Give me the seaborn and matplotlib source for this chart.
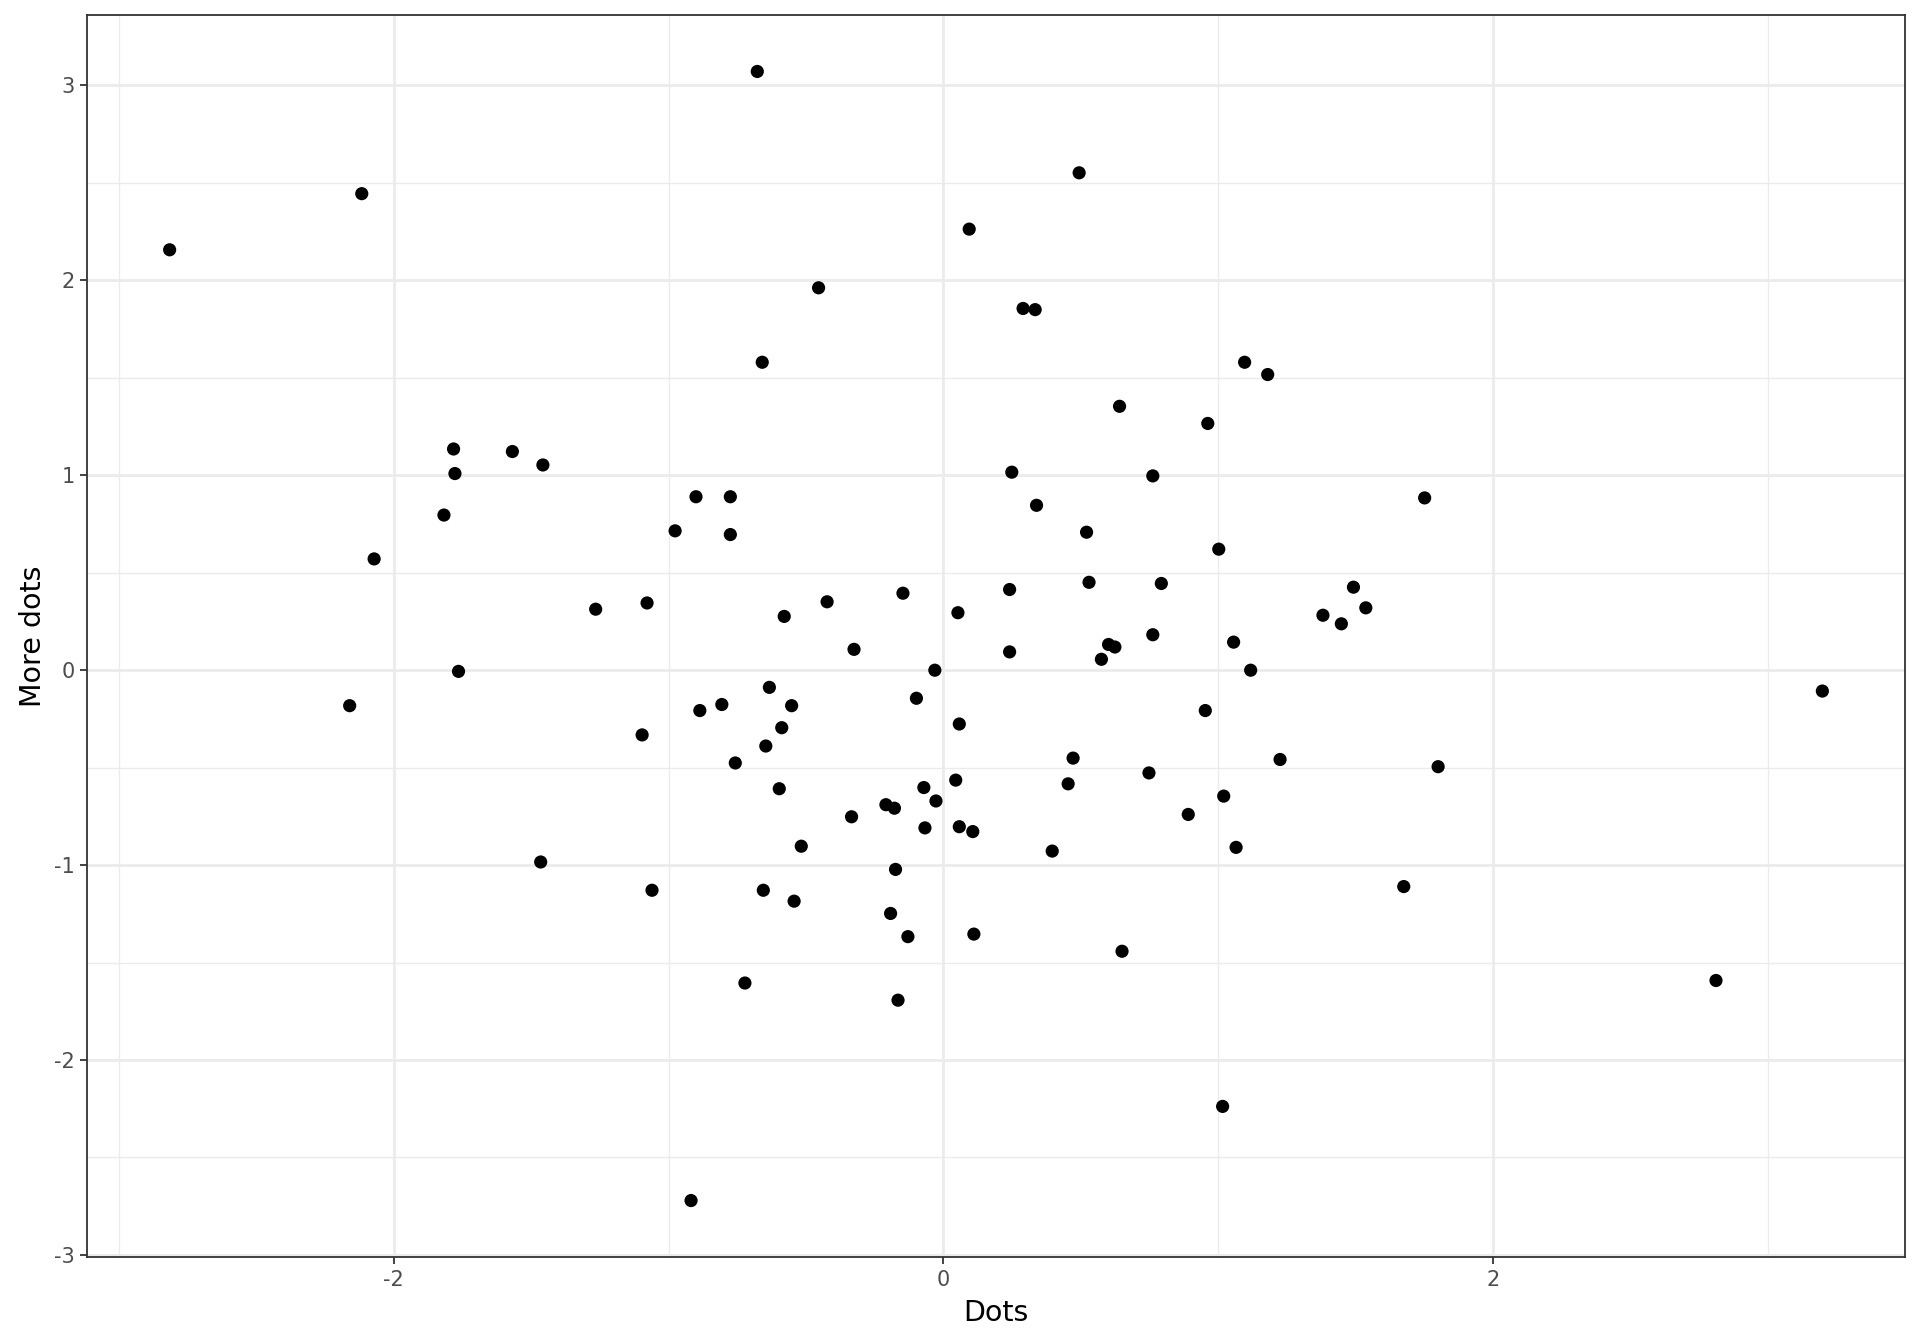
import numpy as np
import pandas as pd
import matplotlib
matplotlib.use("Agg")
import matplotlib.pyplot as plt
import seaborn as sns
from matplotlib.ticker import MultipleLocator

# values
dots = [
    -2.815, -2.116, -2.160, -2.071, -1.817, -1.782, -1.777, -1.764, -1.568, -1.457,
    -1.465, -1.265, -1.096, -1.078, -1.060, -0.976, -0.900, -0.886, -0.918, -0.806,
    -0.775, -0.775, -0.757, -0.722, -0.677, -0.659, -0.655, -0.646, -0.633, -0.597,
    -0.588, -0.579, -0.552, -0.543, -0.517, -0.454, -0.423, -0.334, -0.325, -0.209,
    -0.192, -0.178, -0.174, -0.165, -0.147, -0.129, -0.098, -0.071, -0.067, -0.031,
    -0.027, 0.045, 0.053, 0.058, 0.058, 0.094, 0.107, 0.111, 0.241, 0.241,
    0.249, 0.290, 0.334, 0.339, 0.396, 0.454, 0.472, 0.494, 0.521, 0.530,
    0.575, 0.601, 0.624, 0.641, 0.650, 0.748, 0.762, 0.762, 0.793, 0.891,
    0.953, 0.962, 1.002, 1.016, 1.020, 1.056, 1.065, 1.096, 1.118, 1.180,
    1.225, 1.381, 1.448, 1.492, 1.537, 1.675, 1.751, 1.800, 2.811, 3.198,
]
more_dots = [
    2.157, 2.445, -0.182, 0.571, 0.796, 1.135, 1.009, -0.006, 1.122, 1.053,
    -0.984, 0.313, -0.332, 0.345, -1.129, 0.715, 0.890, -0.207, -2.721, -0.176,
    0.890, 0.696, -0.476, -1.605, 3.072, 1.580, -1.129, -0.389, -0.088, -0.608,
    -0.295, 0.276, -0.182, -1.185, -0.903, 1.962, 0.351, -0.752, 0.107, -0.690,
    -1.248, -0.708, -1.022, -1.693, 0.395, -1.367, -0.144, -0.602, -0.809, 0.000,
    -0.671, -0.564, 0.295, -0.276, -0.803, 2.263, -0.828, -1.354, 0.414, 0.094,
    1.016, 1.856, 1.850, 0.846, -0.928, -0.583, -0.451, 2.552, 0.708, 0.451,
    0.056, 0.132, 0.119, 1.354, -1.442, -0.527, 0.997, 0.182, 0.445, -0.740,
    -0.207, 1.266, 0.621, -2.238, -0.646, 0.144, -0.909, 1.580, 0.000, 1.517,
    -0.458, 0.282, 0.238, 0.426, 0.320, -1.110, 0.884, -0.495, -1.592, -0.107,
]

df = pd.DataFrame({"Dots": dots, "More dots": more_dots})

sns.set_style("white")
plt.rcParams["font.family"] = ["DejaVu Sans"]
plt.rcParams["axes.unicode_minus"] = False

fig = plt.figure(figsize=(19.2, 13.44), dpi=100)
ax = fig.add_axes([87 / 1920, 1 - 1257 / 1344, (1905 - 87) / 1920, (1257 - 15) / 1344])

sns.scatterplot(data=df, x="Dots", y="More dots", ax=ax, color="black",
                s=90, edgecolor="none", zorder=3)

# ggplot-style 5% expansion
xr = max(dots) - min(dots)
yr = max(more_dots) - min(more_dots)
ax.set_xlim(min(dots) - 0.05 * xr, max(dots) + 0.05 * xr)
ax.set_ylim(min(more_dots) - 0.05 * yr, max(more_dots) + 0.05 * yr)

ax.xaxis.set_major_locator(MultipleLocator(2))
ax.xaxis.set_minor_locator(MultipleLocator(1))
ax.yaxis.set_major_locator(MultipleLocator(1))
ax.yaxis.set_minor_locator(MultipleLocator(0.5))

ax.grid(True, which="major", color="#EBEBEB", linewidth=2.0, zorder=0)
ax.grid(True, which="minor", color="#EBEBEB", linewidth=1.0, zorder=0)
ax.set_axisbelow(True)

for sp in ax.spines.values():
    sp.set_visible(True)
    sp.set_color("#333333")
    sp.set_linewidth(1.3)

ax.tick_params(which="major", length=5, width=1.3, color="#333333",
               labelsize=15, labelcolor="#4D4D4D", pad=4, direction="out",
               bottom=True, left=True)
ax.tick_params(which="minor", length=0)

ax.set_xlabel("Dots", fontsize=20.5, color="black", labelpad=7)
ax.set_ylabel("More dots", fontsize=20.5, color="black", labelpad=5)

fig.savefig("out.png", dpi=100, facecolor="white")
